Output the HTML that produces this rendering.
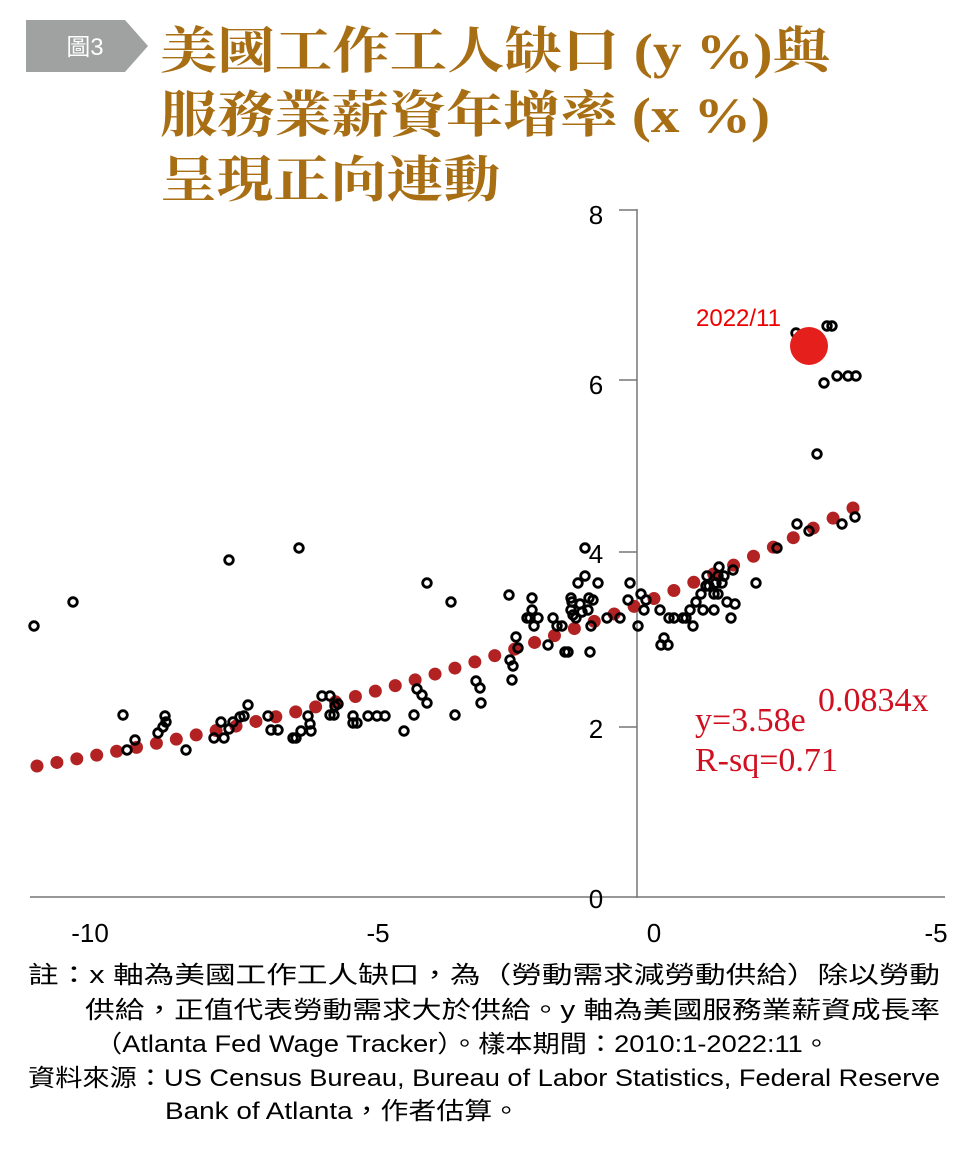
<!DOCTYPE html>
<html><head><meta charset="utf-8"><style>
html,body{margin:0;padding:0;background:#fff;width:977px;height:1149px;overflow:hidden}
svg{display:block}
</style></head><body>
<svg id="s" width="977" height="1149" viewBox="0 0 977 1149" xmlns="http://www.w3.org/2000/svg">
<polygon points="26,20 125,20 148,46 125,72 26,72" fill="#a0a1a1"/>
<text x="85" y="55" font-family="Liberation Sans, Noto Sans CJK TC, sans-serif" font-size="24" fill="#fff" text-anchor="middle">圖3</text>
<g font-family="Liberation Serif, Noto Serif CJK SC, serif" font-weight="bold" font-size="50" fill="#a86e14">
<text x="160" y="68" textLength="670" lengthAdjust="spacingAndGlyphs">美國工作工人缺口 (y %)與</text>
<text x="160" y="132" textLength="610" lengthAdjust="spacingAndGlyphs">服務業薪資年增率 (x %)</text>
<text x="160" y="197" textLength="340" lengthAdjust="spacingAndGlyphs">呈現正向連動</text>
</g>
<g stroke="#777" stroke-width="1.5">
<line x1="637" y1="209" x2="637" y2="898"/>
<line x1="30" y1="897" x2="945" y2="897"/>
<line x1="619" y1="210" x2="637" y2="210"/>
<line x1="619" y1="380" x2="637" y2="380"/>
<line x1="619" y1="552" x2="637" y2="552"/>
<line x1="619" y1="727" x2="637" y2="727"/>
</g>
<g font-family="Liberation Sans, sans-serif" font-size="26" fill="#000" text-anchor="middle">
<text x="596" y="224">8</text><text x="596" y="394">6</text><text x="596" y="563">4</text><text x="596" y="738">2</text><text x="596" y="908">0</text>
<text x="90" y="942">-10</text><text x="378" y="942">-5</text><text x="654" y="942">0</text><text x="936" y="942">-5</text>
</g>
<g id="fit" fill="#b22222"></g>
<g id="pts" fill="none" stroke="#000" stroke-width="2.8"></g>
<circle cx="809" cy="346" r="19" fill="#e5201c"/>
<text x="696" y="326" font-family="Liberation Sans, sans-serif" font-size="24" fill="#e00">2022/11</text>
<g font-family="Liberation Serif, serif" font-size="34" fill="#d01020">
<text x="695" y="731">y=3.58e</text>
<text x="818" y="711">0.0834x</text>
<text x="695" y="771">R-sq=0.71</text>
</g>
<g font-family="Liberation Sans, Noto Sans CJK TC, sans-serif" font-size="24" fill="#000">
<text x="28" y="983" textLength="912" lengthAdjust="spacingAndGlyphs">註：x 軸為美國工作工人缺口，為（勞動需求減勞動供給）除以勞動</text>
<text x="85" y="1018" textLength="855" lengthAdjust="spacingAndGlyphs">供給，正值代表勞動需求大於供給。y 軸為美國服務業薪資成長率</text>
<text x="95" y="1052" textLength="735" lengthAdjust="spacingAndGlyphs">（Atlanta Fed Wage Tracker）。樣本期間：2010:1-2022:11。</text>
<text x="28" y="1086" textLength="912" lengthAdjust="spacingAndGlyphs">資料來源：US Census Bureau, Bureau of Labor Statistics, Federal Reserve</text>
<text x="165" y="1119" textLength="355" lengthAdjust="spacingAndGlyphs">Bank of Atlanta，作者估算。</text>
</g>
</svg>
<script>
var ns="http://www.w3.org/2000/svg";
var f=document.getElementById("fit");
for(var i=0;i<=41;i++){var x=37+i*(853-37)/41;var v=1.535*Math.pow(4.535/1.535,i/41);var c=document.createElementNS(ns,"circle");c.setAttribute("cx",x);c.setAttribute("cy",898-86*v);c.setAttribute("r",6.5);f.appendChild(c);}
var P=[[34,626],[73,602],[229,560],[299,548],[123,715],[127,750],[135,740],[158,733],[163,727],[165,716],[166,722],[186,750],[214,738],[221,722],[224,738],[229,729],[233,722],[240,717],[244,716],[248,705],[268,716],[271,730],[278,730],[293,738],[296,738],[301,731],[308,716],[310,724],[311,731],[322,696],[330,696],[330,715],[334,715],[335,706],[338,704],[353,716],[353,723],[357,723],[368,716],[377,716],[385,716],[404,731],[414,715],[417,689],[422,695],[427,703],[427,583],[451,602],[455,715],[476,681],[480,688],[481,703],[509,595],[510,660],[512,680],[513,666],[516,637],[518,648],[527,618],[530,618],[532,598],[532,610],[534,626],[538,618],[548,645],[553,618],[557,626],[562,626],[565,652],[568,652],[571,598],[572,602],[571,610],[573,615],[576,618],[578,583],[580,604],[582,612],[585,548],[585,576],[588,610],[589,598],[590,652],[591,626],[593,600],[598,583],[607,618],[620,618],[628,600],[630,583],[638,626],[641,594],[644,610],[646,600],[660,610],[661,645],[664,638],[668,645],[669,618],[674,618],[683,618],[686,618],[690,610],[693,626],[696,602],[701,594],[703,610],[706,586],[707,576],[709,586],[714,594],[714,610],[716,583],[718,576],[718,594],[719,567],[722,583],[724,576],[727,602],[731,618],[733,570],[735,604],[756,583],[777,548],[797,524],[809,531],[817,454],[824,383],[827,326],[832,326],[837,376],[848,376],[856,376],[842,524],[855,517],[796,333]];
var g=document.getElementById("pts");
P.forEach(function(p){var c=document.createElementNS(ns,"circle");c.setAttribute("cx",p[0]);c.setAttribute("cy",p[1]);c.setAttribute("r",4.3);g.appendChild(c);});
</script>
</body></html>
